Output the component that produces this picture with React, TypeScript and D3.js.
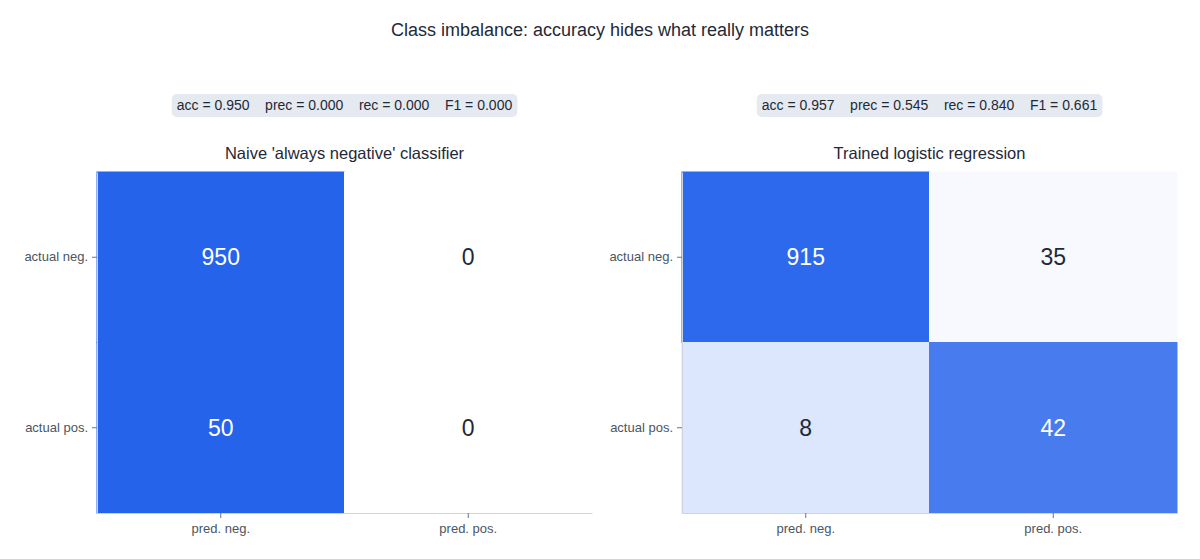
import React, { useEffect, useRef } from 'react';
import * as d3 from 'd3';

// confusion-matrix data
const predLabels = ['pred. neg.', 'pred. pos.'];
const actualLabels = ['actual neg.', 'actual pos.'];

const naiveTitle = "Naive 'always negative' classifier";
const naiveCounts = [
  [950, 0],
  [50, 0],
];
const naiveMetrics = ['acc = 0.950', 'prec = 0.000', 'rec = 0.000', 'F1 = 0.000'];

const logregTitle = 'Trained logistic regression';
const logregCounts = [
  [915, 35],
  [8, 42],
];
const logregMetrics = ['acc = 0.957', 'prec = 0.545', 'rec = 0.840', 'F1 = 0.661'];

const WIDTH = 1200;
const HEIGHT = 559;
const FONT = '"Liberation Sans", Arial, Helvetica, sans-serif';

const App: React.FC = () => {
  const svgRef = useRef<SVGSVGElement>(null);

  useEffect(() => {
    if (!svgRef.current) return;
    document.body.style.margin = '0';

    const svg = d3.select(svgRef.current);
    svg.selectAll('*').remove();
    svg.attr('width', WIDTH).attr('height', HEIGHT).style('font-family', FONT);

    svg.append('text')
      .attr('x', 600)
      .attr('y', 36)
      .attr('text-anchor', 'middle')
      .attr('font-size', 18)
      .attr('fill', '#1f2937')
      .text('Class imbalance: accuracy hides what really matters');

    const color = d3.interpolateRgb('#ffffff', '#2563eb');

    const panels = [
      { title: naiveTitle, counts: naiveCounts, metrics: naiveMetrics, left: 97 },
      { title: logregTitle, counts: logregCounts, metrics: logregMetrics, left: 682 },
    ];

    const top = 172;
    const bottom = 513;
    const pw = 495;

    panels.forEach(p => {
      const g = svg.append('g');
      const x = d3.scaleBand().domain(predLabels).range([p.left, p.left + pw]);
      const y = d3.scaleBand().domain(actualLabels).range([top, bottom]);
      const cx = p.left + pw / 2;

      // metrics pill
      const pill = g.append('g');
      const rect = pill.append('rect').attr('fill', '#e5e9f0').attr('rx', 5);
      const txt = pill.append('text')
        .attr('x', cx)
        .attr('y', 110)
        .attr('text-anchor', 'middle')
        .attr('font-size', 14)
        .attr('fill', '#1f2937')
        .style('white-space', 'pre')
        .text(p.metrics.join('    '));
      const bb = (txt.node() as SVGTextElement).getBBox();
      rect.attr('x', bb.x - 5).attr('y', 94).attr('width', bb.width + 10).attr('height', 23);

      g.append('text')
        .attr('x', cx)
        .attr('y', 159)
        .attr('text-anchor', 'middle')
        .attr('font-size', 16.5)
        .attr('fill', '#1f2937')
        .text(p.title);

      const cells = p.counts.flatMap((row, i) => {
        const total = d3.sum(row);
        return row.map((v, j) => ({ v, r: total ? v / total : 0, a: actualLabels[i], pr: predLabels[j] }));
      });

      g.selectAll('rect.cell')
        .data(cells)
        .enter()
        .append('rect')
        .attr('class', 'cell')
        .attr('x', d => x(d.pr)!)
        .attr('y', d => y(d.a)!)
        .attr('width', x.bandwidth())
        .attr('height', y.bandwidth())
        .attr('fill', d => color(d.r))
        .attr('stroke', d => color(d.r))
        .attr('stroke-width', 1);

      g.selectAll('text.val')
        .data(cells)
        .enter()
        .append('text')
        .attr('class', 'val')
        .attr('x', d => x(d.pr)! + x.bandwidth() / 2)
        .attr('y', d => y(d.a)! + y.bandwidth() / 2 + 8)
        .attr('text-anchor', 'middle')
        .attr('font-size', 23)
        .attr('fill', d => (d.r > 0.5 ? '#ffffff' : '#1f2937'))
        .text(d => d.v);

      const xAxis = g.append('g')
        .attr('transform', `translate(0,${bottom})`)
        .call(d3.axisBottom(x).tickSize(5).tickSizeOuter(0).tickPadding(6));
      const yAxis = g.append('g')
        .attr('transform', `translate(${p.left},0)`)
        .call(d3.axisLeft(y).tickSize(5).tickSizeOuter(0).tickPadding(4));

      [xAxis, yAxis].forEach(ax => {
        ax.select('.domain').attr('stroke', '#cbd5e1');
        ax.selectAll('.tick line').attr('stroke', '#6b7280');
        ax.selectAll('.tick text')
          .attr('fill', '#4b5563')
          .attr('font-size', 13)
          .attr('font-family', FONT);
      });
    });
  }, []);

  return <svg ref={svgRef} style={{ display: 'block', background: '#ffffff' }}></svg>;
};

export default App;
